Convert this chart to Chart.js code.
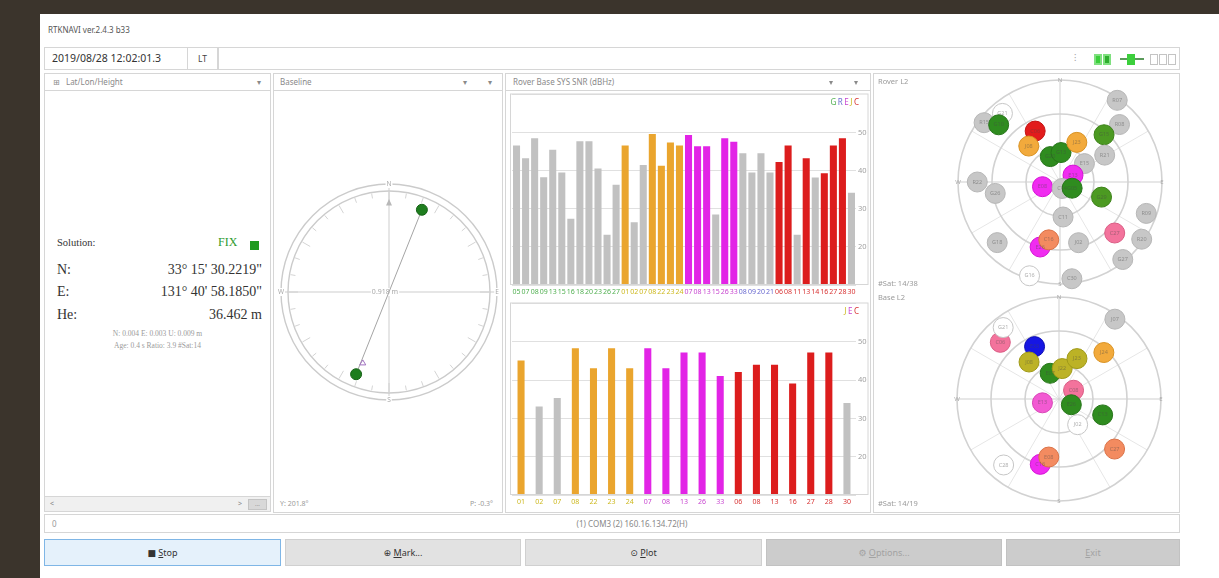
<!DOCTYPE html>
<html lang="en">
<head>
<meta charset="utf-8">
<title>RTKNAVI</title>
<script src="https://cdn.jsdelivr.net/npm/chart.js@4.4.1/dist/chart.umd.min.js"></script>
<style>
  html, body { margin:0; padding:0; width:1219px; height:578px; overflow:hidden; background:#fff;
    font-family:"Noto Sans","DejaVu Sans",sans-serif; color:#555; }
  .a { position:absolute; box-sizing:border-box; }
  .dark { background:#3b342c; }
  .box { border:1px solid #d6d6d6; background:#fff; }
  .hdr { font-size:8px; color:#8a8a8a; line-height:16px; white-space:nowrap; }
  .tiny { font-size:7px; color:#9a9a9a; white-space:nowrap; }
  .btn { border:1px solid #d0d0d0; background:#e2e2e2; font-size:9px; color:#333; text-align:center; line-height:25px; }
  .btn.off { background:#cccccc; color:#a2a2a2; border-color:#c2c2c2; }
  .btn.on { background:#e5f1fb; border-color:#7fb6e6; }
  .serif { font-family:"Liberation Serif","DejaVu Serif",serif; color:#333; white-space:nowrap; }
  .chartbox { position:absolute; }
</style>
</head>
<body>
<!-- desktop frame -->
<div class="a dark" style="left:0;top:0;width:40px;height:578px"></div>
<div class="a dark" style="left:0;top:0;width:1219px;height:14px"></div>

<!-- title -->
<div class="a" style="left:48px;top:24px;font-size:8px;color:#555">RTKNAVI ver.2.4.3 b33</div>

<!-- toolbar -->
<div class="a box" style="left:44px;top:47px;width:144px;height:23px;font-size:10.5px;color:#333;line-height:21px;padding-left:7px">2019/08/28 12:02:01.3</div>
<div class="a box" style="left:187px;top:47px;width:31px;height:23px;font-size:8.5px;color:#444;line-height:21px;text-align:center">LT</div>
<div class="a box" style="left:218px;top:47px;width:962px;height:23px"></div>
<div class="a" style="left:1074px;top:51px;font-size:9px;color:#999">⁝</div>
<div class="a" style="left:1094px;top:54px;width:8px;height:11px;background:#3ccf3c;border:2px solid #7fe07f"></div>
<div class="a" style="left:1103px;top:54px;width:8px;height:11px;background:#2fae2f;border:2px solid #7fe07f"></div>
<div class="a" style="left:1120px;top:58px;width:24px;height:2px;background:#5a9a5a"></div>
<div class="a" style="left:1127px;top:54px;width:8px;height:11px;background:#3ccf3c"></div>
<div class="a" style="left:1150px;top:54px;width:8px;height:11px;border:1px solid #c4c4c4"></div>
<div class="a" style="left:1159px;top:54px;width:8px;height:11px;border:1px solid #c4c4c4"></div>
<div class="a" style="left:1168px;top:54px;width:8px;height:11px;border:1px solid #c4c4c4"></div>

<!-- solution panel -->
<div class="a box hdr" style="left:44px;top:73px;width:227px;height:18px;padding-left:8px">⊞&nbsp;&nbsp;&nbsp;Lat/Lon/Height<span style="position:absolute;left:212px;top:0">▾</span></div>
<div class="a box" style="left:44px;top:90px;width:227px;height:407px"></div>
<div class="a serif" style="left:57px;top:237px;font-size:10.5px">Solution:</div>
<div class="a serif" style="left:218px;top:235px;font-size:12px;color:#2e9a2e">FIX</div>
<div class="a" style="left:250px;top:241px;width:9px;height:9px;background:#1f9a1f"></div>
<div class="a serif" style="left:57px;top:262px;font-size:14px">N:</div>
<div class="a serif" style="left:57px;top:284px;font-size:14px">E:</div>
<div class="a serif" style="left:57px;top:307px;font-size:14px">He:</div>
<div class="a serif" style="right:957px;top:262px;font-size:14px">33° 15' 30.2219"</div>
<div class="a serif" style="right:957px;top:284px;font-size:14px">131° 40' 58.1850"</div>
<div class="a serif" style="right:957px;top:307px;font-size:14px">36.462 m</div>
<div class="a tiny" style="left:44px;width:227px;top:329px;text-align:center;font-family:'Liberation Serif',serif;font-size:7.5px">N: 0.004 E: 0.003 U: 0.009 m</div>
<div class="a tiny" style="left:44px;width:227px;top:341px;text-align:center;font-family:'Liberation Serif',serif;font-size:7.5px">Age: 0.4 s Ratio: 3.9 #Sat:14</div>
<div class="a box" style="left:44px;top:496px;width:227px;height:16px;background:#f0f0f0"></div>
<div class="a tiny" style="left:50px;top:499px;color:#888">&lt;</div>
<div class="a tiny" style="left:238px;top:499px;color:#888">&gt;</div>
<div class="a" style="left:248px;top:499px;width:19px;height:11px;background:#d8d8d8;border:1px solid #c4c4c4;font-size:6px;color:#888;text-align:center;line-height:9px">...</div>

<!-- baseline panel -->
<div class="a box hdr" style="left:273px;top:73px;width:230px;height:18px;padding-left:6px">Baseline<span style="position:absolute;left:189px;top:0">▾</span><span style="position:absolute;left:214px;top:0">▾</span></div>
<div class="a box" style="left:273px;top:90px;width:230px;height:423px"></div>
<div class="a tiny" style="left:280px;top:499px">Y: 201.8°</div>
<div class="a tiny" style="left:470px;top:499px">P: -0.3°</div>
<div class="chartbox" style="left:271px;top:174px;width:236px;height:236px"><canvas id="compass"></canvas></div>

<!-- SNR panel -->
<div class="a box hdr" style="left:505px;top:73px;width:366px;height:18px;padding-left:7px">Rover Base SYS SNR (dBHz)<span style="position:absolute;left:323px;top:0">▾</span><span style="position:absolute;left:348px;top:0">▾</span></div>
<div class="a box" style="left:505px;top:90px;width:366px;height:423px"></div>
<div class="chartbox" style="left:508px;top:88px;width:362px;height:212px"><canvas id="snrRover"></canvas></div>
<div class="chartbox" style="left:508px;top:297px;width:362px;height:213px"><canvas id="snrBase"></canvas></div>

<!-- sky panel -->
<div class="a box" style="left:873px;top:73px;width:307px;height:440px"></div>
<div class="a tiny" style="left:878px;top:76px;font-size:7.5px">Rover L2</div>
<div class="a tiny" style="left:878px;top:278px;font-size:7.5px">#Sat: 14/38</div>
<div class="a tiny" style="left:878px;top:292px;font-size:7.5px">Base L2</div>
<div class="a tiny" style="left:878px;top:498px;font-size:7.5px">#Sat: 14/19</div>
<div class="chartbox" style="left:947px;top:69px;width:226px;height:226px"><canvas id="skyRover"></canvas></div>
<div class="chartbox" style="left:946px;top:286px;width:226px;height:226px"><canvas id="skyBase"></canvas></div>

<!-- status bar -->
<div class="a box" style="left:44px;top:514px;width:1136px;height:19px"></div>
<div class="a tiny" style="left:52px;top:518px;font-size:8px">0</div>
<div class="a tiny" style="left:44px;width:1136px;top:518px;text-align:center;font-size:8px;color:#888;padding-left:40px">(1) COM3 (2) 160.16.134.72(H)</div>

<!-- buttons -->
<div class="a btn on" style="left:44px;top:539px;width:237px;height:27px">■&nbsp;<u>S</u>top</div>
<div class="a btn" style="left:285px;top:539px;width:236px;height:27px">⊕&nbsp;<u>M</u>ark...</div>
<div class="a btn" style="left:525px;top:539px;width:237px;height:27px">⊙&nbsp;<u>P</u>lot</div>
<div class="a btn off" style="left:766px;top:539px;width:236px;height:27px">⚙&nbsp;<u>O</u>ptions...</div>
<div class="a btn off" style="left:1006px;top:539px;width:174px;height:27px"><u>E</u>xit</div>

<script>
// ---- SNR, rover receiver ----
const roverSats = ['05','07','08','09','13','15','16','18','20','23','26','27',
                   '01','02','07','08','22','23','24',
                   '07','08','13','15','26','33',
                   '08','09','20','21',
                   '06','08','11','13','14','16','27','28','30'];
const roverSys  = ['G','G','G','G','G','G','G','G','G','G','G','G',
                   'J','J','J','J','J','J','J',
                   'E','E','E','E','E','E',
                   'R','R','R','R',
                   'C','C','C','C','C','C','C','C','C'];
const roverSnr  = [46.6,43.3,48.5,38.3,45.5,39.5,27.4,47.7,47.7,40.6,23.2,36.3,
                   46.6,26.5,41.5,49.6,41.3,47.4,46.6,
                   49.4,46.4,46.4,28.5,48.5,47.6,
                   44.6,39.5,44.6,39.5,
                   42.3,46.6,23.2,43.3,38.2,39.3,46.6,48.5,34.2];
const roverUsed = [0,0,0,0,0,0,0,0,0,0,0,0,
                   1,0,0,1,1,1,1,
                   1,1,1,0,1,1,
                   0,0,0,0,
                   1,1,0,1,0,1,1,1,0];

// ---- SNR, base receiver ----
const baseSats = ['01','02','07','08','22','23','24','07','08','13','26','33','06','08','13','16','27','28','30'];
const baseSys  = ['J','J','J','J','J','J','J','E','E','E','E','E','C','C','C','C','C','C','C'];
const baseSnr  = [45.1,33.1,35.3,48.3,43.1,48.3,43.1,48.3,43.1,47.2,47.2,41.1,42.1,44.0,44.0,39.1,47.2,47.2,34.0];
const baseUsed = [1,0,0,1,1,1,1,1,1,1,1,1,1,1,1,1,1,1,0];

const snrTicks = [20,30,40,50];

// ---- sky plots (azimuth / elevation, degrees) ----
const roverAz   = [308,320,313,334,319,339,2,23,35,46,43,59,53,62,255,162,117,270,260,110,175,110,133,125,226,197,191,163,141,173,198];
const roverEl   = [5,11,16,40,48,66,64,52,2,17,33,44,63,77,74,84,78,17,32,51,59,9,24,2,13,30,38,34,2,4,3];
const roverKind = ['gray','open','green','red','orange','green','green','orange','gray','gray','lgreen','gray','gray','magenta','magenta','gray','green','gray','gray','lgreen','gray','gray','pink','gray','gray','magenta','salmon','gray','gray','gray','open'];
const roverIds  = ['R15','G21','G10','C06','J08','G20','G13','J23','R07','R08','G15','R21','E15','E13','E08','C14','G05','R22','G26','G29','C11','R09','C27','R20','G18','E26','C16','J02','G27','C30','G16'];

const baseAz   = [35,314,322,335,321,341,6,24,44,59,257,115,110,144,132,196,190,220];
const baseEl   = [4,18,10,39,48,66,63,51,33,75,75,78,49,62,24,30,38,14];
const baseKind = ['gray','pink','open','blue','olive','green','olive','olive','orange','pink','mpink','green','green','open','salmon','magenta','salmon','open'];
const baseIds  = ['J07','C06','G21','E33','J08','E07','J22','J23','J24','C08','E13','E26','C13','J02','C27','C16','E08','C28'];

// ---- baseline attitude ----
const baselineYaw = 201.8;     // deg
const baselinePitch = -0.3;    // deg
const baselineLen = '0.918 m';

// ---- colours ----
const sysLabelColor = {G:'#52b052', R:'#6a6ad0', E:'#c846d0', J:'#cdb81e', C:'#d83434'};
const sysBarColor   = {G:'#3aa03a', R:'#5050c8', E:'#e224e6', J:'#eaa52e', C:'#dc1d1d'};
const unusedBar = '#c1c1c1';
const skyFill = {gray:'#c7c7c7', open:'#ffffff', green:'#2f8c1f', lgreen:'#4c9a22', red:'#e21c1c', orange:'#f2aa3c',
                 magenta:'#f02cf0', pink:'#f3739c', salmon:'#f38b60', olive:'#bcb226', blue:'#1616e4', mpink:'#f25ad2'};
const skyEdge = {gray:'#b6b6b6', open:'#c6c6c6', green:'#27751a', lgreen:'#3d8219', red:'#c41212', orange:'#d99222',
                 magenta:'#d414d4', pink:'#da5c84', salmon:'#da7247', olive:'#a09a18', blue:'#0c0cb0', mpink:'#d844b6'};

Chart.defaults.font.family = '"Noto Sans","DejaVu Sans",sans-serif';
Chart.defaults.animation = false;

// frame around the plot area and the little system legend
function snrDecor(legend) {
  return {
    id: 'snrDecor',
    afterDraw(chart) {
      const {ctx, chartArea: a} = chart;
      ctx.save();
      ctx.strokeStyle = '#d6d6d6';
      ctx.lineWidth = 1;
      ctx.strokeRect(a.left - 1.5, a.top - 0.5, chart.width - 2 - (a.left - 1.5), a.bottom - a.top);
      ctx.font = '8px "Noto Sans","DejaVu Sans",sans-serif';
      ctx.textBaseline = 'middle';
      let x = a.right + 3;
      for (let i = legend.length - 1; i >= 0; i--) {
        const s = legend[i];
        const w = ctx.measureText(s).width;
        x -= w;
        ctx.fillStyle = sysLabelColor[s];
        ctx.fillText(s, x, a.top + 8);
        x -= 1.5;
      }
      ctx.restore();
    }
  };
}

function snrChart(id, labels, sys, snr, used, barPct, legend) {
  new Chart(document.getElementById(id), {
    type: 'bar',
    data: {
      labels: labels,
      datasets: [{
        data: snr,
        backgroundColor: snr.map((v, i) => used[i] ? sysBarColor[sys[i]] : unusedBar),
        barPercentage: barPct,
        categoryPercentage: 1,
        borderWidth: 0
      }]
    },
    options: {
      responsive: true,
      maintainAspectRatio: false,
      layout: {padding: {left: 4, top: 3, right: 0, bottom: 0}},
      plugins: {legend: {display: false}, tooltip: {enabled: false}},
      scales: {
        x: {
          grid: {display: false, drawTicks: false},
          border: {display: false},
          ticks: {autoSkip: false, maxRotation: 0, minRotation: 0, padding: 3,
                  font: {size: 7}, color: c => sysLabelColor[sys[c.index]]},
          afterFit: s => { s.height = 15; }
        },
        y: {
          position: 'right', min: 10, max: 60,
          grid: {color: '#e0e0e0', drawTicks: false},
          border: {display: false},
          ticks: {stepSize: 10, padding: 2, font: {size: 7.5}, color: '#a0a0a0',
                  callback: v => snrTicks.includes(v) ? v : ''},
          afterFit: s => { s.width = 14; }
        }
      }
    },
    plugins: [snrDecor(legend)]
  });
}

snrChart('snrRover', roverSats, roverSys, roverSnr, roverUsed, 0.78, ['G','R','E','J','C']);
snrChart('snrBase', baseSats, baseSys, baseSnr, baseUsed, 0.39, ['J','E','C']);

// ---- sky plot ----
const rad = d => d * Math.PI / 180;

const skyGrid = {
  id: 'skyGrid',
  beforeDatasetsDraw(chart) {
    const {ctx, scales: {x, y}} = chart;
    const cx = x.getPixelForValue(0), cy = y.getPixelForValue(0);
    const R = x.getPixelForValue(90) - cx;
    ctx.save();
    ctx.lineWidth = 1;
    ctx.strokeStyle = '#e6e6e6';
    for (let az = 30; az < 360; az += 30) {
      if (az % 90 === 0) continue;
      ctx.beginPath();
      ctx.moveTo(cx, cy);
      ctx.lineTo(cx + R * Math.sin(rad(az)), cy - R * Math.cos(rad(az)));
      ctx.stroke();
    }
    ctx.strokeStyle = '#cfcfcf';
    ctx.beginPath();
    ctx.moveTo(cx - R, cy); ctx.lineTo(cx + R, cy);
    ctx.moveTo(cx, cy - R); ctx.lineTo(cx, cy + R);
    ctx.stroke();
    ctx.lineWidth = 1.6;
    ctx.strokeStyle = '#d2d2d2';
    [90, 60, 30].forEach(z => {
      ctx.beginPath();
      ctx.arc(cx, cy, R * z / 90, 0, 2 * Math.PI);
      ctx.stroke();
    });
    ctx.font = '6px "Noto Sans","DejaVu Sans",sans-serif';
    ctx.fillStyle = '#aaa';
    ctx.textAlign = 'center';
    ctx.textBaseline = 'middle';
    ctx.fillText('N', cx, cy - R);
    ctx.fillText('S', cx, cy + R);
    ctx.fillText('W', cx - R, cy);
    ctx.fillText('E', cx + R, cy);
    ctx.restore();
  },
  afterDatasetsDraw(chart) {
    const {ctx} = chart;
    const meta = chart.getDatasetMeta(0);
    const ids = chart.data.datasets[0].ids;
    ctx.save();
    ctx.font = '5.5px "Noto Sans","DejaVu Sans",sans-serif';
    ctx.textAlign = 'center';
    ctx.textBaseline = 'middle';
    ctx.fillStyle = 'rgba(70,70,70,0.45)';
    meta.data.forEach((p, i) => ctx.fillText(ids[i], p.x, p.y));
    ctx.restore();
  }
};

function skyChart(id, az, el, kind, ids) {
  const pts = az.map((a, i) => ({x: (90 - el[i]) * Math.sin(rad(a)), y: (90 - el[i]) * Math.cos(rad(a))}));
  new Chart(document.getElementById(id), {
    type: 'scatter',
    data: {datasets: [{
      data: pts, ids: ids, clip: false,
      pointRadius: 10, pointHoverRadius: 10, borderWidth: 1,
      backgroundColor: kind.map(k => skyFill[k]),
      borderColor: kind.map(k => skyEdge[k])
    }]},
    options: {
      responsive: true, maintainAspectRatio: false,
      layout: {padding: 10},
      plugins: {legend: {display: false}, tooltip: {enabled: false}},
      scales: {x: {display: false, min: -90, max: 90}, y: {display: false, min: -90, max: 90}}
    },
    plugins: [skyGrid]
  });
}

skyChart('skyRover', roverAz, roverEl, roverKind, roverIds);
skyChart('skyBase', baseAz, baseEl, baseKind, baseIds);

// ---- baseline compass ----
const compassGrid = {
  id: 'compassGrid',
  beforeDatasetsDraw(chart) {
    const {ctx, scales: {x, y}} = chart;
    const cx = x.getPixelForValue(0), cy = y.getPixelForValue(0);
    const R = x.getPixelForValue(1) - cx;
    ctx.save();
    ctx.strokeStyle = '#cbcbcb';
    ctx.lineWidth = 1.4;
    ctx.beginPath(); ctx.arc(cx, cy, R, 0, 2 * Math.PI); ctx.stroke();
    ctx.beginPath(); ctx.arc(cx, cy, R - 7, 0, 2 * Math.PI); ctx.stroke();
    ctx.lineWidth = 1;
    ctx.strokeStyle = '#d4d4d4';
    for (let d = 0; d < 360; d += 10) {
      const L = d % 30 === 0 ? 9 : 5;
      const s = Math.sin(rad(d)), c = Math.cos(rad(d));
      ctx.beginPath();
      ctx.moveTo(cx + (R - 8) * s, cy - (R - 8) * c);
      ctx.lineTo(cx + (R - 8 - L) * s, cy - (R - 8 - L) * c);
      ctx.stroke();
    }
    ctx.strokeStyle = '#cdcdcd';
    ctx.beginPath();
    ctx.moveTo(cx - R, cy); ctx.lineTo(cx + R, cy);
    ctx.moveTo(cx, cy - R); ctx.lineTo(cx, cy + R);
    ctx.stroke();
    ctx.font = '6.5px "Noto Sans","DejaVu Sans",sans-serif';
    ctx.textAlign = 'center';
    ctx.textBaseline = 'middle';
    const lab = (t, px, py) => {
      const w = ctx.measureText(t).width + 2;
      ctx.fillStyle = '#fff'; ctx.fillRect(px - w / 2, py - 4, w, 8);
      ctx.fillStyle = '#a8a8a8'; ctx.fillText(t, px, py);
    };
    lab('N', cx, cy - R);
    lab('S', cx, cy + R);
    lab('W', cx - R, cy);
    lab('E', cx + R, cy);
    ctx.font = '7px "Noto Sans","DejaVu Sans",sans-serif';
    lab(baselineLen, cx - 4, cy);
    // north marker
    ctx.fillStyle = '#b8b8b8';
    ctx.beginPath();
    ctx.moveTo(cx, cy - R * 0.86); ctx.lineTo(cx - 3, cy - R * 0.80); ctx.lineTo(cx + 3, cy - R * 0.80);
    ctx.closePath(); ctx.fill();
    ctx.restore();
  },
  afterDatasetsDraw(chart) {
    const {ctx, scales: {x, y}} = chart;
    const r = 0.70, a = rad(baselineYaw - 1.5);
    const px = x.getPixelForValue(r * Math.sin(a)), py = y.getPixelForValue(r * Math.cos(a));
    ctx.save();
    ctx.strokeStyle = '#a070c0';
    ctx.lineWidth = 1;
    ctx.beginPath();
    ctx.moveTo(px, py - 3); ctx.lineTo(px - 3, py + 2); ctx.lineTo(px + 3, py + 2); ctx.closePath();
    ctx.stroke();
    ctx.restore();
  }
};

const tipR = 0.82 * Math.cos(rad(baselinePitch));
const baselinePts = [
  {x: tipR * Math.sin(rad(baselineYaw - 180)), y: tipR * Math.cos(rad(baselineYaw - 180))},
  {x: tipR * Math.sin(rad(baselineYaw)),       y: tipR * Math.cos(rad(baselineYaw))}
];

new Chart(document.getElementById('compass'), {
  type: 'scatter',
  data: {datasets: [{
    data: baselinePts, showLine: true, clip: false,
    borderColor: '#a4a4a4', borderWidth: 1,
    pointRadius: 5.5, pointHoverRadius: 5.5,
    pointBackgroundColor: '#1e7d1e', pointBorderColor: '#176317', pointBorderWidth: 1
  }]},
  options: {
    responsive: true, maintainAspectRatio: false,
    layout: {padding: 10},
    plugins: {legend: {display: false}, tooltip: {enabled: false}},
    scales: {x: {display: false, min: -1, max: 1}, y: {display: false, min: -1, max: 1}}
  },
  plugins: [compassGrid]
});
</script>
</body>
</html>
